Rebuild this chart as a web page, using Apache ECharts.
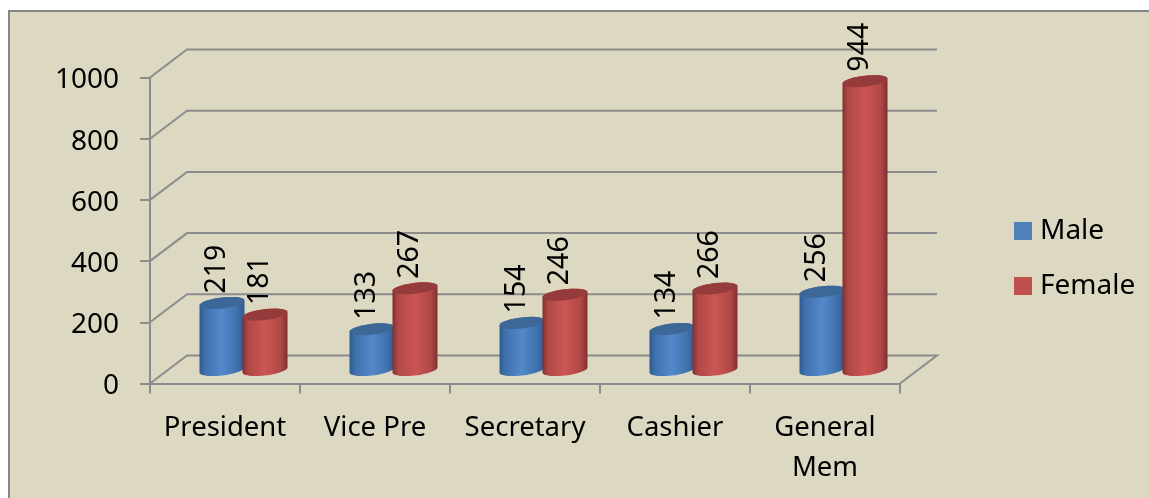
<!DOCTYPE html>
<html><head><meta charset="utf-8">
<style>html,body{margin:0;padding:0;background:#fff}#c{width:1149px;height:498px}</style>
<script src="https://cdn.jsdelivr.net/npm/echarts@6/dist/echarts.min.js"></script>
</head><body><div id="c"></div>
<script>
const categories = ['President','Vice Pre','Secretary','Cashier','General\nMem'];
const male = [219,133,154,134,256];
const female = [181,267,246,266,944];
const wallTicks = [0,200,400,600,800,1000];

const FONT = '"Noto Sans", sans-serif';
const GRID = '#8c8c8c';
const depthX = 37, depthY = 28;
const rx = 22.5, ry = 5.5, tilt = 2.5;

function ellipsePts(cx, cy, from, to) {
  const pts = [];
  for (let i = 0; i <= 24; i++) {
    const t = from + (to - from) * i / 24;
    pts.push([cx + rx * Math.cos(t), cy + ry * Math.sin(t) - tilt * Math.cos(t)]);
  }
  return pts;
}
function cylinder(side, edge, mid, cap, dir) {
  return function (params, api) {
    const idx = api.value(0), v = api.value(1);
    const p = api.coord([idx, v]);
    const p0 = api.coord([idx, 0]);
    const cx = p[0] + depthX / 2 + dir * 21.5;
    const top = p[1] - depthY / 2 + 0.5, base = p0[1] - depthY / 2 + 0.5;
    const body = ellipsePts(cx, base, 0, Math.PI).concat(ellipsePts(cx, top, Math.PI, 2 * Math.PI));
    const fill = {type:'linear',x:0,y:0,x2:1,y2:0,colorStops:[
      {offset:0,color:edge},{offset:0.12,color:side},{offset:0.5,color:mid},{offset:0.85,color:side},{offset:1,color:edge}]};
    return {type:'group',children:[
      {type:'polygon',shape:{points:body},style:{fill}},
      {type:'polygon',shape:{points:ellipsePts(cx, top, 0, 2 * Math.PI)},style:{fill:cap}},
      {type:'text',x:cx - 5.5,y:top - 9.5,rotation:Math.PI/2,
       style:{text:String(v),fill:'#000',font:'28.5px '+FONT,align:'left',verticalAlign:'middle'}}
    ]};
  };
}
function wall(params, api) {
  const v = api.value(1);
  const step = api.size([1,0])[0];
  const c = api.coord([0, v]);
  const xL = c[0] - step / 2, xR = xL + step * categories.length, y = c[1];
  const st = {stroke:GRID,lineWidth:2,fill:null};
  const pts = [[xL,y],[xL+depthX,y-depthY],[xR+depthX,y-depthY]];
  if (v === 0) pts.push([xR,y]);
  return {type:'polyline',shape:{points:pts},style:st};
}
const chart = echarts.init(document.getElementById('c'),null,{renderer:'canvas'});
chart.setOption({
  animation:false,
  backgroundColor:'#fff',
  graphic:[{type:'rect',z:-10,silent:true,shape:{x:9,y:11,width:1300,height:600},
    style:{fill:'#ddd8c2',stroke:'#868686',lineWidth:2}}],
  grid:{left:150,right:249,top:77.5,bottom:114.5,containLabel:false},
  legend:{orient:'vertical',left:1014,top:217,padding:0,icon:'rect',itemWidth:18,itemHeight:18,itemGap:27,
    textStyle:{fontFamily:FONT,fontSize:28,color:'#000',padding:[0,0,0,3]},
    data:['Male','Female']},
  xAxis:{type:'category',data:categories,
    axisLine:{lineStyle:{color:GRID,width:2}},
    axisTick:{show:true,length:10,lineStyle:{color:GRID,width:2}},
    axisLabel:{fontFamily:FONT,fontSize:27.5,color:'#000',margin:25,lineHeight:40,interval:0}},
  yAxis:{type:'value',min:0,max:1000,interval:200,
    axisLine:{show:true,lineStyle:{color:GRID,width:2}},
    axisTick:{show:true,length:10,lineStyle:{color:GRID,width:2}},
    axisLabel:{color:'#000',margin:31,formatter:v=>'{a|'+v+'}',
      rich:{a:{fontFamily:FONT,fontSize:28,color:'#000',padding:[6,0,0,0]}}},
    splitLine:{show:false}},
  series:[
    {type:'custom',z:1,silent:true,renderItem:wall,encode:{x:0,y:1},
     data:wallTicks.map(v=>[0,v])},
    {type:'custom',name:'Male',z:3,renderItem:cylinder('#3f70ab','#2d5a8f','#5389cb','#3c6796',-1),
     itemStyle:{color:'#4f81bd'},encode:{x:0,y:1},data:male.map((v,i)=>[i,v])},
    {type:'custom',name:'Female',z:4,renderItem:cylinder('#b04847','#7f2f2e','#cc5553','#963b3b',1),
     itemStyle:{color:'#c0504d'},encode:{x:0,y:1},data:female.map((v,i)=>[i,v])}
  ]
});
</script></body></html>
